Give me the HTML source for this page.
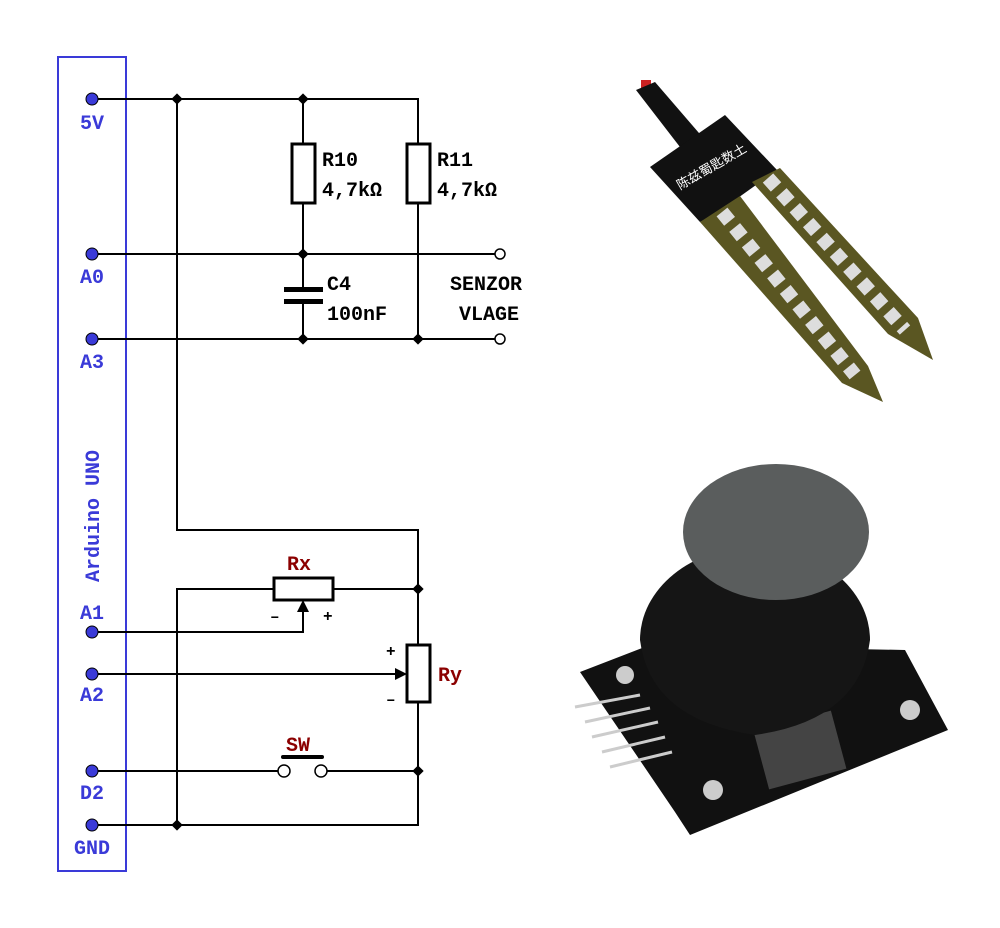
<!DOCTYPE html>
<html><head><meta charset="utf-8"><style>
html,body{margin:0;padding:0;background:#fff}
svg{display:block}
.b{font-family:"Liberation Mono",monospace;font-weight:bold;font-size:20px}
</style></head><body>
<svg width="1000" height="928" viewBox="0 0 1000 928" xmlns="http://www.w3.org/2000/svg">
<rect x="58" y="57" width="68" height="814" fill="none" stroke="#3a3ad8" stroke-width="2"/>
<g stroke="#000" stroke-width="2" fill="none">
<polyline points="92,99 418,99 418,144"/>
<line x1="303" y1="99" x2="303" y2="144"/>
<line x1="303" y1="203" x2="303" y2="290"/>
<line x1="418" y1="203" x2="418" y2="339"/>
<line x1="303" y1="302" x2="303" y2="339"/>
<line x1="92" y1="254" x2="495" y2="254"/>
<line x1="92" y1="339" x2="495" y2="339"/>
<polyline points="177,99 177,530 418,530 418,645"/>
<polyline points="177,825 177,589 274,589"/>
<line x1="333" y1="589" x2="418" y2="589"/>
<polyline points="92,632 303,632 303,612"/>
<line x1="92" y1="674" x2="397" y2="674"/>
<polyline points="418,702 418,825 92,825"/>
<line x1="92" y1="771" x2="279" y2="771"/>
<line x1="326" y1="771" x2="418" y2="771"/>
</g>
<g fill="none" stroke="#000" stroke-width="3">
<rect x="292" y="144" width="23" height="59" fill="#fff"/>
<rect x="407" y="144" width="23" height="59" fill="#fff"/>
<rect x="274" y="578" width="59" height="22" fill="#fff"/>
<rect x="407" y="645" width="23" height="57" fill="#fff"/>
</g>
<rect x="284" y="287" width="39" height="5" fill="#000"/>
<rect x="284" y="299" width="39" height="5" fill="#000"/>
<rect x="281" y="755" width="43" height="4" rx="2" fill="#000"/>
<polygon points="303,600 297,612 309,612" fill="#000"/>
<polygon points="407,674 395,668 395,680" fill="#000"/>
<g fill="#fff" stroke="#000" stroke-width="1.5">
<circle cx="500" cy="254" r="5"/><circle cx="500" cy="339" r="5"/>
<circle cx="284" cy="771" r="6"/><circle cx="321" cy="771" r="6"/>
</g>
<g fill="#000">
<rect x="173" y="95" width="8" height="8" transform="rotate(45 177 99)"/>
<rect x="299" y="95" width="8" height="8" transform="rotate(45 303 99)"/>
<rect x="299" y="250" width="8" height="8" transform="rotate(45 303 254)"/>
<rect x="299" y="335" width="8" height="8" transform="rotate(45 303 339)"/>
<rect x="414" y="335" width="8" height="8" transform="rotate(45 418 339)"/>
<rect x="414" y="585" width="8" height="8" transform="rotate(45 418 589)"/>
<rect x="414" y="767" width="8" height="8" transform="rotate(45 418 771)"/>
<rect x="173" y="821" width="8" height="8" transform="rotate(45 177 825)"/>
</g>
<g fill="#3a3ad8" stroke="#000" stroke-width="1">
<circle cx="92" cy="99" r="6"/><circle cx="92" cy="254" r="6"/><circle cx="92" cy="339" r="6"/>
<circle cx="92" cy="632" r="6"/><circle cx="92" cy="674" r="6"/><circle cx="92" cy="771" r="6"/><circle cx="92" cy="825" r="6"/>
</g>
<g class="b" fill="#3a3ad8" text-anchor="middle">
<text x="92" y="129">5V</text><text x="92" y="283">A0</text><text x="92" y="368">A3</text>
<text x="92" y="619">A1</text><text x="92" y="701">A2</text><text x="92" y="799">D2</text><text x="92" y="854">GND</text>
<text transform="translate(99,516) rotate(-90)">Arduino UNO</text>
</g>
<g class="b" fill="#000">
<text x="322" y="166">R10</text><text x="322" y="196">4,7kΩ</text>
<text x="437" y="166">R11</text><text x="437" y="196">4,7kΩ</text>
<text x="327" y="290">C4</text><text x="327" y="320">100nF</text>
<text x="450" y="290">SENZOR</text><text x="459" y="320">VLAGE</text>
<text x="270" y="621" font-size="16">–</text><text x="323" y="621" font-size="16">+</text>
<text x="386" y="656" font-size="16">+</text><text x="386" y="704" font-size="16">–</text>
</g>
<g class="b" fill="#8b0000">
<text x="287" y="570">Rx</text><text x="438" y="681">Ry</text><text x="286" y="751">SW</text>
</g>
<!-- soil sensor -->
<rect x="641" y="80" width="10" height="10" fill="#c22"/>
<polygon points="636,90 655,82 705,140 690,160" fill="#111"/>
<polygon points="650,167 725,115 777,170 735,200 710,217 700,222" fill="#111"/>
<polygon points="700,222 740,196 868,366 883,402 842,383" fill="#5a5622"/>
<polygon points="752,182 780,168 918,318 933,360 888,334" fill="#5a5622"/>
<line x1="722" y1="212" x2="855" y2="375" stroke="#ddd" stroke-width="14" stroke-dasharray="12,8"/>
<line x1="768" y1="178" x2="905" y2="330" stroke="#ddd" stroke-width="14" stroke-dasharray="12,8"/>
<text x="680" y="190" fill="#fff" font-size="13" transform="rotate(-30 680 190)" font-family="'Noto Sans CJK SC',sans-serif">陈兹蜀匙数土</text>
<!-- joystick -->
<polygon points="580,672 650,645 905,650 948,730 690,835 675,812" fill="#111"/>
<g stroke="#ccc" stroke-width="3">
<line x1="575" y1="707" x2="640" y2="695"/><line x1="585" y1="722" x2="650" y2="708"/>
<line x1="592" y1="737" x2="658" y2="722"/><line x1="602" y1="752" x2="665" y2="737"/>
<line x1="610" y1="767" x2="672" y2="752"/>
</g>
<rect x="760" y="720" width="80" height="60" fill="#444" transform="rotate(-15 800 750)"/>
<circle cx="625" cy="675" r="9" fill="#ccc"/><circle cx="910" cy="710" r="10" fill="#ccc"/><circle cx="713" cy="790" r="10" fill="#ccc"/>
<path d="M640,640 A115,93 0 0 1 870,640 Q860,720 755,735 Q650,720 640,640 Z" fill="#151515"/>
<ellipse cx="776" cy="532" rx="93" ry="68" fill="#5a5d5d"/>
</svg>
</body></html>
